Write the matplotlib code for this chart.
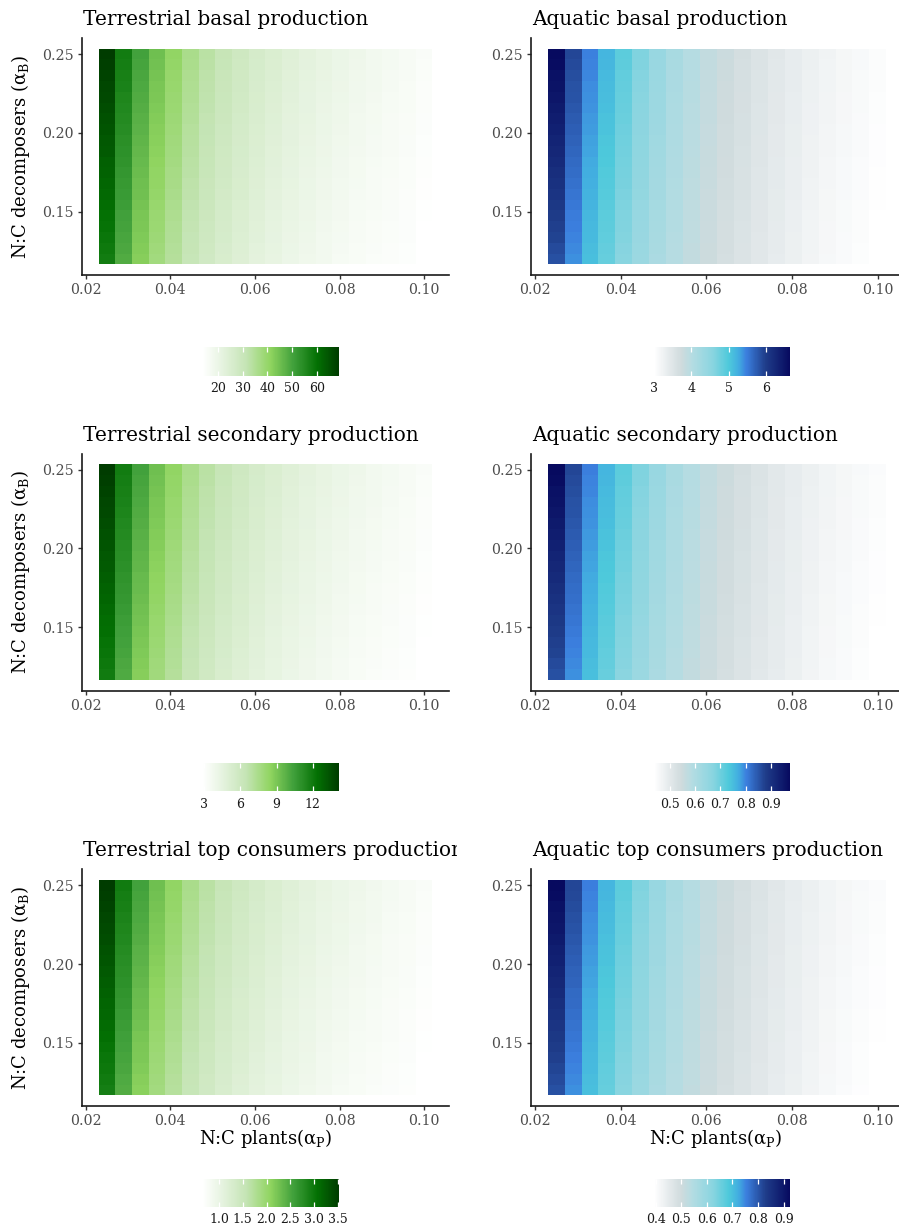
import numpy as np
import matplotlib
matplotlib.use("Agg")
import matplotlib.pyplot as plt
from matplotlib.colors import LinearSegmentedColormap, Normalize
from matplotlib.cm import ScalarMappable
from matplotlib.transforms import Bbox, TransformedBbox

plt.rcParams['font.family'] = ['DejaVu Serif']
plt.rcParams['mathtext.fontset'] = 'dejavuserif'

# ---------------- data ----------------
alpha_P = [0.0250, 0.0289, 0.0329, 0.0368, 0.0408, 0.0447, 0.0487, 0.0526, 0.0566, 0.0605,
           0.0645, 0.0684, 0.0724, 0.0763, 0.0803, 0.0842, 0.0882, 0.0921, 0.0961, 0.1000]
alpha_B = [0.1200, 0.1268, 0.1337, 0.1405, 0.1474, 0.1542, 0.1611, 0.1679, 0.1747, 0.1816,
           0.1884, 0.1953, 0.2021, 0.2089, 0.2158, 0.2226, 0.2295, 0.2363, 0.2432, 0.2500]
# vertical position of each alpha_B row between the bottom-row value (0) and top-row value (1)
vertical_profile = [0.00, 0.05, 0.11, 0.16, 0.21, 0.26, 0.32, 0.37, 0.42, 0.47,
                    0.53, 0.58, 0.63, 0.68, 0.74, 0.79, 0.84, 0.89, 0.95, 1.00]
missing_cell = (0.1200, 0.1000)  # (alpha_B, alpha_P) with no value

terr_basal_top = [68.9, 57.9, 50.2, 45.0, 40.7, 36.3, 33.2, 30.6, 28.5, 26.6,
                  25.0, 23.5, 22.2, 21.0, 19.9, 18.9, 18.0, 17.1, 16.3, 15.5]
terr_basal_bottom = [57.9, 48.6, 42.2, 37.8, 34.2, 30.5, 27.9, 25.7, 23.9, 22.3,
                     21.0, 19.7, 18.6, 17.6, 16.7, 15.9, 15.4, 15.0, 14.6, 13.6]
terr_basal_range = (13.7, 68.9)

terr_second_top = [14.15, 11.90, 10.33, 9.27, 8.39, 7.49, 6.86, 6.32, 5.89, 5.51,
                   5.18, 4.87, 4.61, 4.36, 4.14, 3.93, 3.75, 3.56, 3.40, 3.24]
terr_second_bottom = [11.94, 10.04, 8.72, 7.82, 7.08, 6.32, 5.79, 5.33, 4.97, 4.65,
                      4.37, 4.11, 3.89, 3.68, 3.49, 3.32, 3.21, 3.12, 3.04, 2.85]
terr_second_range = (2.87, 14.15)

terr_topc_top = [3.52, 2.95, 2.55, 2.28, 2.06, 1.83, 1.67, 1.53, 1.42, 1.33,
                 1.24, 1.16, 1.10, 1.03, 0.98, 0.93, 0.88, 0.83, 0.79, 0.75]
terr_topc_bottom = [2.92, 2.45, 2.12, 1.89, 1.71, 1.52, 1.39, 1.27, 1.18, 1.10,
                    1.03, 0.96, 0.91, 0.85, 0.81, 0.77, 0.745, 0.72, 0.70, 0.651]
terr_topc_range = (0.656, 3.52)

aq_basal_top = [6.65, 5.92, 5.48, 5.19, 4.90, 4.64, 4.39, 4.17, 4.02, 3.88,
                3.77, 3.66, 3.55, 3.46, 3.37, 3.29, 3.23, 3.17, 3.12, 3.07]
aq_basal_bottom = [5.85, 5.40, 5.10, 4.83, 4.58, 4.35, 4.15, 4.00, 3.87, 3.76,
                   3.65, 3.55, 3.46, 3.37, 3.29, 3.21, 3.14, 3.09, 3.05, 2.996]
aq_basal_range = (3.0, 6.65)

aq_second_top = [0.975, 0.867, 0.803, 0.760, 0.717, 0.679, 0.641, 0.609, 0.588, 0.566,
                 0.550, 0.534, 0.518, 0.504, 0.491, 0.480, 0.470, 0.462, 0.454, 0.448]
aq_second_bottom = [0.857, 0.792, 0.746, 0.706, 0.668, 0.636, 0.606, 0.585, 0.566, 0.550,
                    0.533, 0.518, 0.504, 0.491, 0.480, 0.468, 0.457, 0.450, 0.444, 0.4364]
aq_second_range = (0.437, 0.975)

aq_topc_top = [0.925, 0.819, 0.755, 0.712, 0.670, 0.632, 0.595, 0.563, 0.542, 0.521,
               0.505, 0.489, 0.473, 0.460, 0.446, 0.436, 0.426, 0.417, 0.410, 0.404]
aq_topc_bottom = [0.808, 0.744, 0.699, 0.659, 0.622, 0.590, 0.561, 0.539, 0.521, 0.505,
                  0.488, 0.473, 0.460, 0.446, 0.436, 0.424, 0.413, 0.405, 0.399, 0.3924]
aq_topc_range = (0.393, 0.925)

titles = ["Terrestrial basal production", "Aquatic basal production",
          "Terrestrial secondary production", "Aquatic secondary production",
          "Terrestrial top consumers production", "Aquatic top consumers production"]

cb_ticks = [[20, 30, 40, 50, 60], [3, 4, 5, 6],
            [3, 6, 9, 12], [0.5, 0.6, 0.7, 0.8, 0.9],
            [1.0, 1.5, 2.0, 2.5, 3.0, 3.5], [0.4, 0.5, 0.6, 0.7, 0.8, 0.9]]
cb_ticklabels = [["20", "30", "40", "50", "60"], ["3", "4", "5", "6"],
                 ["3", "6", "9", "12"], ["0.5", "0.6", "0.7", "0.8", "0.9"],
                 ["1.0", "1.5", "2.0", "2.5", "3.0", "3.5"],
                 ["0.4", "0.5", "0.6", "0.7", "0.8", "0.9"]]

x_ticks = [0.02, 0.04, 0.06, 0.08, 0.10]
x_ticklabels = ["0.02", "0.04", "0.06", "0.08", "0.10"]
y_ticks = [0.15, 0.20, 0.25]
y_ticklabels = ["0.15", "0.20", "0.25"]

# ---------------- colours ----------------
green_cmap = LinearSegmentedColormap.from_list("terr", [
    (0.0, "#ffffff"), (0.14, "#e6f3e0"), (0.32, "#c4e4b4"), (0.50, "#8fd45f"),
    (0.67, "#3f9f3a"), (0.845, "#037003"), (1.0, "#003c00")])
blue_cmap = LinearSegmentedColormap.from_list("aq", [
    (0.0, "#ffffff"), (0.12, "#e2e8ea"), (0.20, "#cfdbdd"), (0.28, "#b4dce2"),
    (0.43, "#8ad5e0"), (0.55, "#4ec9db"), (0.62, "#42aee0"), (0.68, "#3b7fde"),
    (0.82, "#1f3d8a"), (1.0, "#070a5f")])

panels = [
    (terr_basal_top, terr_basal_bottom, terr_basal_range, green_cmap),
    (aq_basal_top, aq_basal_bottom, aq_basal_range, blue_cmap),
    (terr_second_top, terr_second_bottom, terr_second_range, green_cmap),
    (aq_second_top, aq_second_bottom, aq_second_range, blue_cmap),
    (terr_topc_top, terr_topc_bottom, terr_topc_range, green_cmap),
    (aq_topc_top, aq_topc_bottom, aq_topc_range, blue_cmap),
]

# ---------------- layout ----------------
W, H = 899, 1232
fig = plt.figure(figsize=(W / 100, H / 100), dpi=100)
fig.patch.set_facecolor("white")


def rect(l, t, r, b):
    return [l / W, 1 - b / H, (r - l) / W, (b - t) / H]


col_x = [(82, 449), (531, 903)]
xlabel_x = [265.5, 716]
cb_x = [(202.7, 338.7), (654, 790)]
row_step = 415.6

tick_col = "#4d4d4d"
line_col = "#1a1a1a"

xP = np.array(alpha_P)
yB = np.array(alpha_B)
prof = np.array(vertical_profile)
mi = alpha_B.index(missing_cell[0])
mj = alpha_P.index(missing_cell[1])

for k, (top, bottom, vrange, cmap) in enumerate(panels):
    row, col = divmod(k, 2)
    off = row * row_step
    L, R = col_x[col]
    ax = fig.add_axes(rect(L, 38 + off, R, 275 + off))
    top = np.array(top)
    bottom = np.array(bottom)
    Z = bottom[None, :] + (top - bottom)[None, :] * prof[:, None]
    Z[mi, mj] = np.nan
    norm = Normalize(vmin=vrange[0], vmax=vrange[1], clip=True)
    ax.pcolormesh(xP, yB, np.ma.masked_invalid(Z), cmap=cmap, norm=norm,
                  shading="nearest", edgecolors="none", antialiased=False)
    ax.use_sticky_edges = False
    ax.margins(x=0.05, y=0.05)
    ax.set_xticks(x_ticks)
    ax.set_xticklabels(x_ticklabels)
    ax.set_yticks(y_ticks)
    ax.set_yticklabels(y_ticklabels)
    for s in ("top", "right"):
        ax.spines[s].set_visible(False)
    for s in ("left", "bottom"):
        ax.spines[s].set_linewidth(1.2)
        ax.spines[s].set_color(line_col)
    ax.tick_params(axis="both", length=3.0, width=1.0, color="#333333",
                   labelcolor=tick_col, labelsize=10.2, pad=2.8)

    # title (left-column titles are cut at the neighbouring panel, as in the original)
    t = fig.text((L + 1) / W, 1 - (25 + off) / H, titles[k], ha="left",
                 va="baseline", fontsize=14.4, color="black")
    if col == 0:
        t.set_clip_box(TransformedBbox(Bbox.from_extents(0, 0, 457 / W, 1),
                                       fig.transFigure))
        t.set_clip_on(True)

    # y label
    if col == 0:
        fig.text(21 / W, 1 - (156.5 + off) / H,
                 "N:C decomposers (α$_\\mathrm{B}$)", rotation=90,
                 ha="center", va="center", fontsize=13)
    # x label
    if row == 2:
        fig.text(xlabel_x[col] / W, 1 - 1138 / H, "N:C plants(α$_\\mathrm{P}$)",
                 ha="center", va="center", fontsize=13)

    # colorbar
    cl, cr = cb_x[col]
    cax = fig.add_axes(rect(cl, 347.3 + off, cr, 375.7 + off))
    cb = fig.colorbar(ScalarMappable(norm=norm, cmap=cmap), cax=cax,
                      orientation="horizontal")
    cb.outline.set_visible(False)
    cb.set_ticks(cb_ticks[k])
    cb.set_ticklabels(cb_ticklabels[k])
    cax.xaxis.set_ticks_position("both")
    cax.tick_params(axis="x", which="major", direction="in", length=3.4,
                    width=0.9, color="white", labelcolor="#1a1a1a",
                    labelsize=9, pad=4.5, top=True, labeltop=False)
    cax.tick_params(axis="x", which="minor", length=0)

fig.savefig("out.png", dpi=100, facecolor="white")
